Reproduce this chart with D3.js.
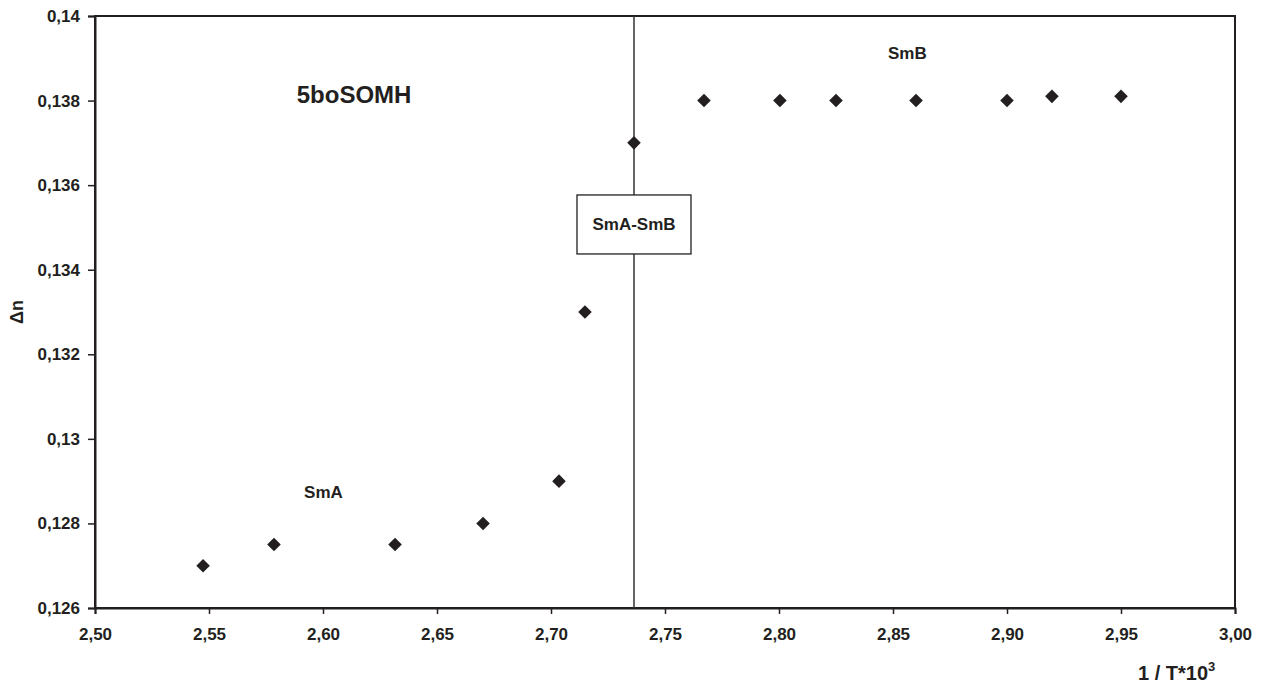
<!DOCTYPE html>
<html>
<head>
<meta charset="utf-8">
<script src="https://cdn.jsdelivr.net/npm/d3@7"></script>
<style>
  body { margin: 0; background: #fff; }
  svg text { font-family: "Liberation Sans", Arial, sans-serif; font-weight: bold; fill: #231f20; }
</style>
</head>
<body>
<svg id="chart" width="1261" height="687"></svg>
<script>
/*jslint browser:true */

// inverse temperature (1/T*10^3) and birefringence values
const invT = [2.5474, 2.5785, 2.6316, 2.6702, 2.7035, 2.7149, 2.7364, 2.7671, 2.8004, 2.8250, 2.8601, 2.9000, 2.9197, 2.9500];
const deltaN = [0.1270, 0.1275, 0.1275, 0.1280, 0.1290, 0.1330, 0.1370, 0.1380, 0.1380, 0.1380, 0.1380, 0.1380, 0.1381, 0.1381];

// SmA-SmB transition
const transitionX = 2.7364;

const xTicks = [2.50, 2.55, 2.60, 2.65, 2.70, 2.75, 2.80, 2.85, 2.90, 2.95, 3.00];
const xTickLabels = ['2,50', '2,55', '2,60', '2,65', '2,70', '2,75', '2,80', '2,85', '2,90', '2,95', '3,00'];
const yTicks = [0.126, 0.128, 0.130, 0.132, 0.134, 0.136, 0.138, 0.140];
const yTickLabels = ['0,126', '0,128', '0,13', '0,132', '0,134', '0,136', '0,138', '0,14'];

(function () {
  'use strict';

  const ink = '#231f20';
  const svg = d3.select('#chart');
  const margin = {top: 16, right: 26, bottom: 79, left: 95};
  const width = +svg.attr('width') - margin.left - margin.right;
  const height = +svg.attr('height') - margin.top - margin.bottom;

  const x = d3.scaleLinear().domain([2.5, 3.0]).range([0, width]);
  const y = d3.scaleLinear().domain([0.126, 0.14]).range([height, 0]);

  const g = svg.append('g').attr('transform', 'translate(' + margin.left + ',' + margin.top + ')');

  // plot frame
  g.append('rect')
    .attr('width', width)
    .attr('height', height)
    .attr('fill', 'none')
    .attr('stroke', ink)
    .attr('stroke-width', 2);

  // axes
  const xAxis = g.append('g')
    .attr('transform', 'translate(0,' + height + ')')
    .call(d3.axisBottom(x).tickValues(xTicks).tickFormat((d, i) => xTickLabels[i]).tickSize(6).tickPadding(14));

  const yAxis = g.append('g')
    .call(d3.axisLeft(y).tickValues(yTicks).tickFormat((d, i) => yTickLabels[i]).tickSize(7).tickPadding(8));

  [xAxis, yAxis].forEach(ax => {
    ax.select('.domain').attr('stroke', ink).attr('stroke-width', 2);
    ax.selectAll('.tick line').attr('stroke', ink).attr('stroke-width', 1.5);
    ax.selectAll('.tick text').attr('font-size', 17).attr('font-family', '"Liberation Sans", Arial, sans-serif').attr('font-weight', 'bold').attr('fill', ink);
  });

  // transition line
  g.append('line')
    .attr('x1', x(transitionX))
    .attr('x2', x(transitionX))
    .attr('y1', 0)
    .attr('y2', height)
    .attr('stroke', '#333')
    .attr('stroke-width', 1.5);

  // data points
  const points = invT.map((v, i) => ({x: v, y: deltaN[i]}));
  g.selectAll('path.point')
    .data(points)
    .enter()
    .append('path')
    .attr('class', 'point')
    .attr('d', d3.symbol(d3.symbolSquare, 92))
    .attr('transform', d => 'translate(' + x(d.x) + ',' + y(d.y) + ') rotate(45)')
    .attr('fill', ink);

  // transition box
  const box = g.append('g').attr('transform', 'translate(' + x(transitionX) + ',' + y(0.13507) + ')');
  box.append('rect')
    .attr('x', -57)
    .attr('y', -29.5)
    .attr('width', 114)
    .attr('height', 59)
    .attr('fill', '#fff')
    .attr('stroke', ink)
    .attr('stroke-width', 1.3);
  box.append('text')
    .attr('text-anchor', 'middle')
    .attr('y', 6)
    .attr('font-size', 17)
    .text('SmA-SmB');

  // annotations
  g.append('text')
    .attr('x', x(2.5885))
    .attr('y', y(0.13794))
    .attr('font-size', 24)
    .text('5boSOMH');

  g.append('text')
    .attr('x', x(2.5917))
    .attr('y', y(0.1286))
    .attr('font-size', 17)
    .text('SmA');

  g.append('text')
    .attr('x', x(2.8478))
    .attr('y', y(0.13898))
    .attr('font-size', 17)
    .text('SmB');

  // axis titles
  svg.append('text')
    .attr('transform', 'translate(23,312) rotate(-90)')
    .attr('text-anchor', 'middle')
    .attr('font-size', 18)
    .text('\u0394n');

  const xTitle = svg.append('text')
    .attr('x', 1138)
    .attr('y', 680)
    .attr('font-size', 20);
  xTitle.append('tspan').text('1 / T*10');
  xTitle.append('tspan').attr('dy', -9).attr('font-size', 13).text('3');
}());
</script>
</body>
</html>
